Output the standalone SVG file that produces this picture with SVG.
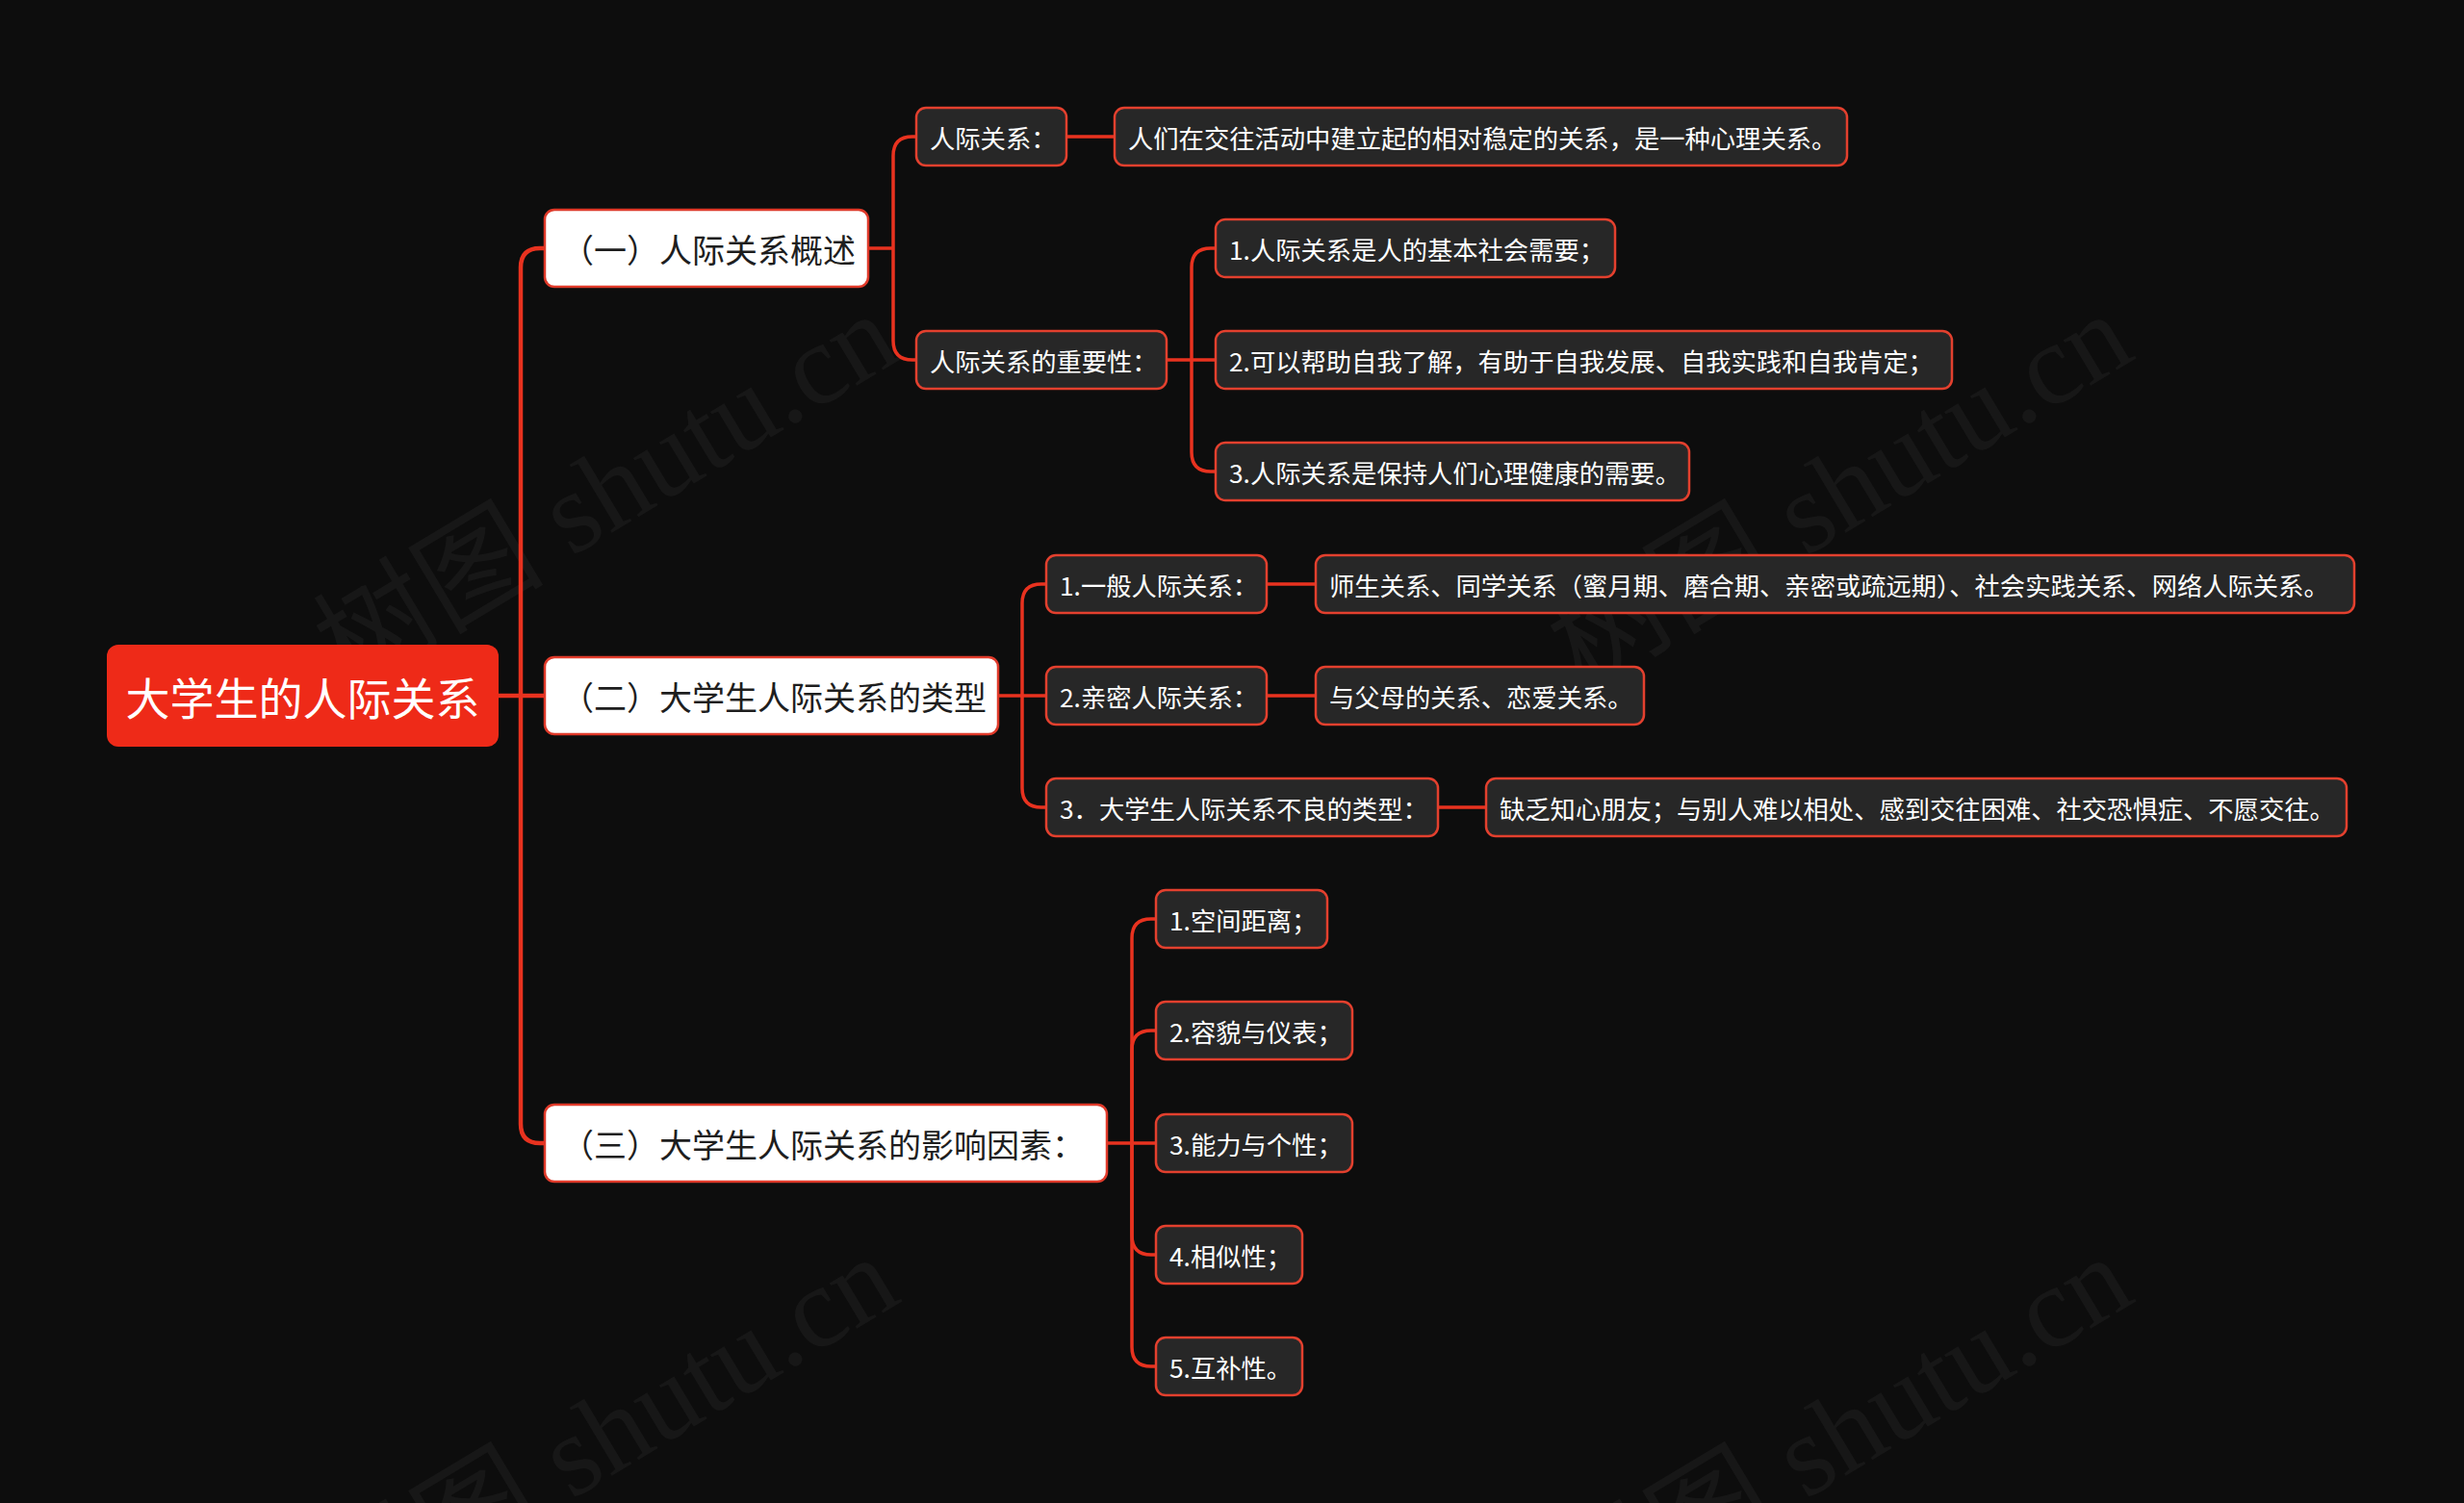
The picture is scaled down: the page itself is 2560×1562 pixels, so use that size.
<svg xmlns="http://www.w3.org/2000/svg" width="2560" height="1562" viewBox="0 0 2560 1562">
<style>
.bg{fill:#0d0d0d}
.wm{font-family:"Liberation Serif","Noto Sans CJK SC",serif;font-size:120px;fill:#ffffff;fill-opacity:0.045}
.root rect{fill:#ee2a18}
.root text{font-family:"Noto Sans CJK SC","Microsoft YaHei",sans-serif;font-size:46px;fill:#ffffff;text-anchor:middle;dominant-baseline:central}
.l1 rect{fill:#ffffff;stroke:#e03a2a;stroke-width:2.5}
.l1 text{font-family:"Noto Sans CJK SC",sans-serif;font-size:34px;fill:#1e1e1e;dominant-baseline:central}
.l2 rect{fill:#272727;stroke:#e3402e;stroke-width:2.5}
.l2 text{font-family:"Noto Sans CJK SC",sans-serif;font-size:26.3px;fill:#ffffff;dominant-baseline:central}
.c0{fill:none;stroke:#e8321f;stroke-width:4.5}
.c1{fill:none;stroke:#e8321f;stroke-width:3.5}
</style>
<rect class="bg" x="0" y="0" width="2560" height="1562"/>
<g id="watermarks">
<text class="wm" transform="translate(362,718) rotate(-31)">树图 shutu.cn</text>
<text class="wm" transform="translate(1644,718) rotate(-31)">树图 shutu.cn</text>
<text class="wm" transform="translate(362,1698) rotate(-31)">树图 shutu.cn</text>
<text class="wm" transform="translate(1644,1698) rotate(-31)">树图 shutu.cn</text>
</g>
<g id="connectors">
<path class="c0" d="M518,723 H566"/>
<path class="c0" d="M541,723 V278 Q541,258 561,258 H566"/>
<path class="c0" d="M541,723 V1168 Q541,1188 561,1188 H566"/>
<path class="c1" d="M902,258 H928"/>
<path class="c1" d="M928,258 V162 Q928,142 948,142 H952"/>
<path class="c1" d="M928,258 V354 Q928,374 948,374 H952"/>
<path class="c1" d="M1108,142 H1158"/>
<path class="c1" d="M1212,374 H1263"/>
<path class="c1" d="M1238,374 V278 Q1238,258 1258,258 H1263"/>
<path class="c1" d="M1238,374 V470 Q1238,490 1258,490 H1263"/>
<path class="c1" d="M1037,723 H1087"/>
<path class="c1" d="M1062,723 V627 Q1062,607 1082,607 H1087"/>
<path class="c1" d="M1062,723 V819 Q1062,839 1082,839 H1087"/>
<path class="c1" d="M1316,607 H1367"/>
<path class="c1" d="M1316,723 H1367"/>
<path class="c1" d="M1494,839 H1544"/>
<path class="c1" d="M1150,1188 H1201"/>
<path class="c1" d="M1176,1188 V975 Q1176,955 1196,955 H1201"/>
<path class="c1" d="M1176,1188 V1091 Q1176,1071 1196,1071 H1201"/>
<path class="c1" d="M1176,1188 V1284 Q1176,1304 1196,1304 H1201"/>
<path class="c1" d="M1176,1188 V1400 Q1176,1420 1196,1420 H1201"/>
</g>
<g id="root" class="root"><rect x="111" y="670" width="407" height="106" rx="12"/><text x="314.5" y="723">大学生的人际关系</text></g>
<g id="n1" class="l1"><rect x="566" y="218" width="336" height="80" rx="10"/><text x="583" y="258">（一）人际关系概述</text></g>
<g id="n2" class="l1"><rect x="566" y="683" width="471" height="80" rx="10"/><text x="583" y="723">（二）大学生人际关系的类型</text></g>
<g id="n3" class="l1"><rect x="566" y="1148" width="584" height="80" rx="10"/><text x="583" y="1188">（三）大学生人际关系的影响因素：</text></g>
<g id="n1a" class="l2"><rect x="952" y="112" width="156" height="60" rx="10"/><text x="966" y="142">人际关系：</text></g>
<g id="n1a1" class="l2"><rect x="1158" y="112" width="761" height="60" rx="10"/><text x="1172" y="142">人们在交往活动中建立起的相对稳定的关系，是一种心理关系。</text></g>
<g id="n1b" class="l2"><rect x="952" y="344" width="260" height="60" rx="10"/><text x="966" y="374">人际关系的重要性：</text></g>
<g id="n1b1" class="l2"><rect x="1263" y="228" width="415" height="60" rx="10"/><text x="1277" y="258">1.人际关系是人的基本社会需要；</text></g>
<g id="n1b2" class="l2"><rect x="1263" y="344" width="765" height="60" rx="10"/><text x="1277" y="374">2.可以帮助自我了解，有助于自我发展、自我实践和自我肯定；</text></g>
<g id="n1b3" class="l2"><rect x="1263" y="460" width="492" height="60" rx="10"/><text x="1277" y="490">3.人际关系是保持人们心理健康的需要。</text></g>
<g id="n2a" class="l2"><rect x="1087" y="577" width="229" height="60" rx="10"/><text x="1101" y="607">1.一般人际关系：</text></g>
<g id="n2a1" class="l2"><rect x="1367" y="577" width="1079" height="60" rx="10"/><text x="1381" y="607">师生关系、同学关系（蜜月期、磨合期、亲密或疏远期）、社会实践关系、网络人际关系。</text></g>
<g id="n2b" class="l2"><rect x="1087" y="693" width="229" height="60" rx="10"/><text x="1101" y="723">2.亲密人际关系：</text></g>
<g id="n2b1" class="l2"><rect x="1367" y="693" width="341" height="60" rx="10"/><text x="1381" y="723">与父母的关系、恋爱关系。</text></g>
<g id="n2c" class="l2"><rect x="1087" y="809" width="407" height="60" rx="10"/><text x="1101" y="839">3．大学生人际关系不良的类型：</text></g>
<g id="n2c1" class="l2"><rect x="1544" y="809" width="894" height="60" rx="10"/><text x="1558" y="839">缺乏知心朋友；与别人难以相处、感到交往困难、社交恐惧症、不愿交往。</text></g>
<g id="n3a" class="l2"><rect x="1201" y="925" width="178" height="60" rx="10"/><text x="1215" y="955">1.空间距离；</text></g>
<g id="n3b" class="l2"><rect x="1201" y="1041" width="204" height="60" rx="10"/><text x="1215" y="1071">2.容貌与仪表；</text></g>
<g id="n3c" class="l2"><rect x="1201" y="1158" width="204" height="60" rx="10"/><text x="1215" y="1188">3.能力与个性；</text></g>
<g id="n3d" class="l2"><rect x="1201" y="1274" width="152" height="60" rx="10"/><text x="1215" y="1304">4.相似性；</text></g>
<g id="n3e" class="l2"><rect x="1201" y="1390" width="152" height="60" rx="10"/><text x="1215" y="1420">5.互补性。</text></g>
</svg>
